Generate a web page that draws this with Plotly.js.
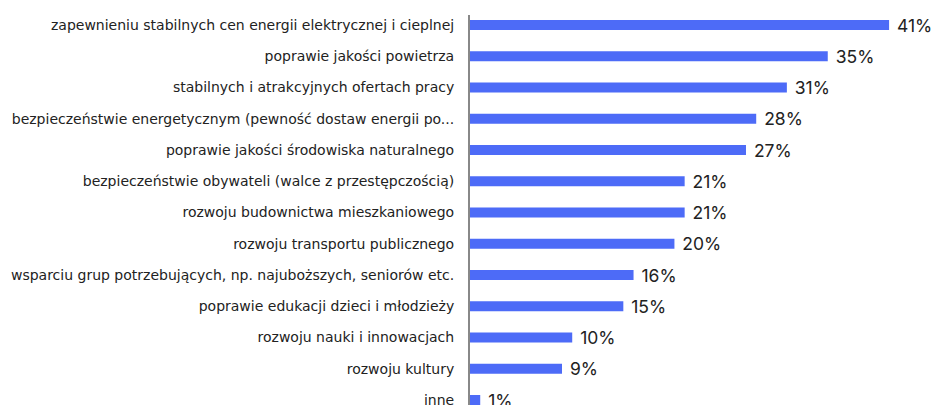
<!DOCTYPE html>
<html>
<head>
<meta charset="utf-8">
<script src="https://cdn.plot.ly/plotly-3.0.1.min.js"></script>
<style>html,body{margin:0;padding:0;background:#fff;}#chart{width:931px;height:405px;}</style>
</head>
<body>
<div id="chart"></div>
<script>
const categories = [
  "zapewnieniu stabilnych cen energii elektrycznej i cieplnej",
  "poprawie jakości powietrza",
  "stabilnych i atrakcyjnych ofertach pracy",
  "bezpieczeństwie energetycznym (pewność dostaw energii po...",
  "poprawie jakości środowiska naturalnego",
  "bezpieczeństwie obywateli (walce z przestępczością)",
  "rozwoju budownictwa mieszkaniowego",
  "rozwoju transportu publicznego",
  "wsparciu grup potrzebujących, np. najuboższych, seniorów etc.",
  "poprawie edukacji dzieci i młodzieży",
  "rozwoju nauki i innowacjach",
  "rozwoju kultury",
  "inne"
];
const values = [41, 35, 31, 28, 27, 21, 21, 20, 16, 15, 10, 9, 1];

const trace = {
  type: 'bar',
  orientation: 'h',
  x: values,
  y: categories,
  marker: {color: '#4D6BF7'},
  text: values.map(v => '\u00a0' + v + '%'),
  textposition: 'outside',
  constraintext: 'none',
  textfont: {family: 'Inter, sans-serif', size: 17.5, color: '#222'},
  cliponaxis: false,
  hoverinfo: 'none'
};

const layout = {
  width: 931, height: 405,
  margin: {l: 470, r: 0, t: 15, b: 0, pad: 0},
  paper_bgcolor: '#fff', plot_bgcolor: '#fff',
  bargap: 0.68,
  showlegend: false,
  font: {family: 'Inter, sans-serif', color: '#222'},
  xaxis: {range: [0, 45.1], visible: false, showgrid: false, zeroline: false, fixedrange: true},
  yaxis: {
    type: 'category',
    range: [12.16, -0.32],
    showgrid: false, zeroline: false,
    showline: true, linecolor: '#888', linewidth: 2,
    ticks: '', ticklabelstandoff: 11,
    tickfont: {family: '"DejaVu Sans", sans-serif', size: 14, color: '#222'},
    fixedrange: true
  }
};

Plotly.newPlot('chart', [trace], layout, {displayModeBar: false, staticPlot: true});
</script>
</body>
</html>
